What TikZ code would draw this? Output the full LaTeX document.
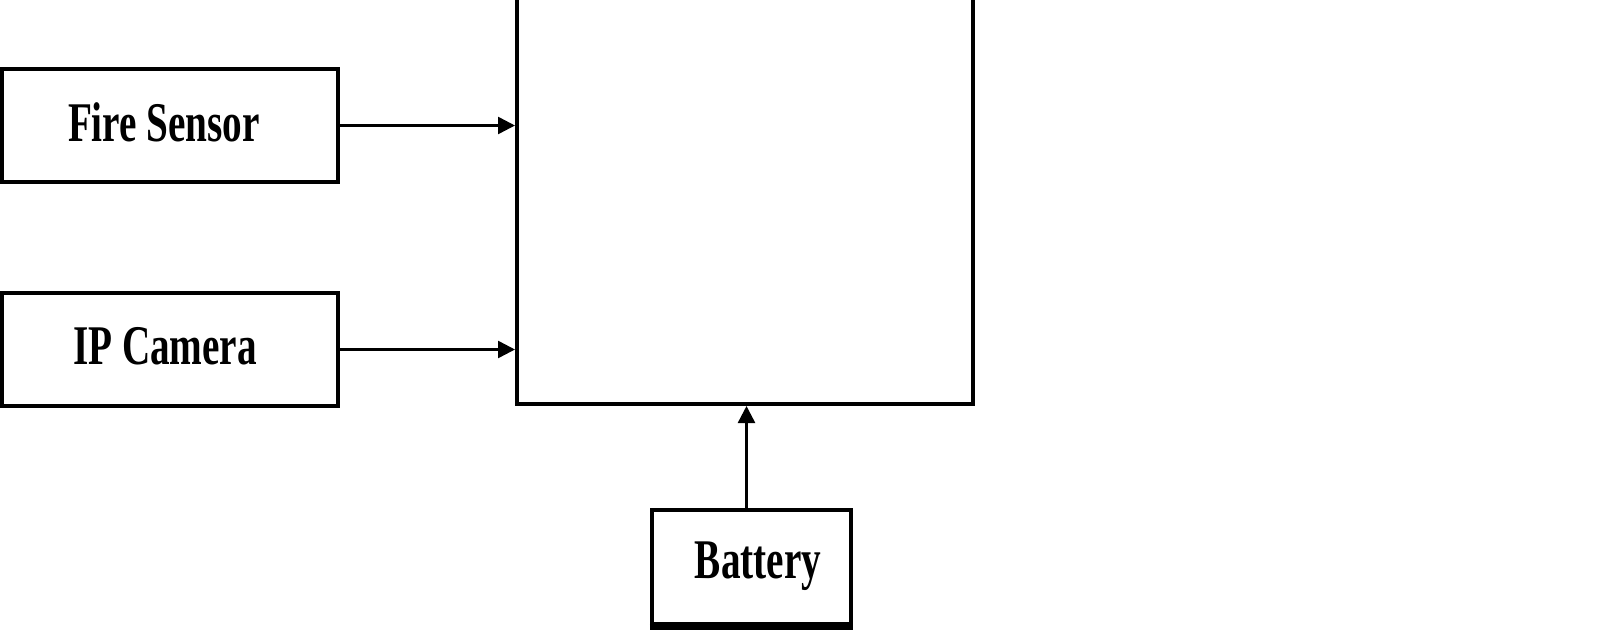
\documentclass[tikz,border=0pt]{standalone}
\usepackage{fontspec}
\usepackage{graphicx}
\setmainfont{Liberation Serif}
\usetikzlibrary{arrows.meta}
\tikzset{
  blk/.style={draw, line width=4.5pt, inner sep=0pt, font=\fontsize{56}{60}\selectfont\bfseries},
  arr/.style={line width=2.5pt, -{Triangle[length=17pt,width=17pt]}}
}
\newcommand{\cnd}[1]{\scalebox{0.7}[1]{#1}}
\begin{document}
\begin{tikzpicture}[x=1pt,y=-1pt]
\clip (0,0) rectangle (1608,629);
\fill[white] (0,0) rectangle (1608,629);
\node[blk, minimum width=336pt, minimum height=113pt] (fs) at (170,125.5) {};
\node[font=\fontsize{56}{60}\selectfont\bfseries] (fst) at (164,122.5) {\cnd{Fire Sensor}};
\node[blk, minimum width=336pt, minimum height=113pt] (ip) at (170,349.5) {};
\node[font=\fontsize{56}{60}\selectfont\bfseries] (ipt) at (165,346.5) {\cnd{IP Camera}};
\node[draw, line width=4pt, minimum width=456pt, minimum height=424pt] (ctrl) at (745,192) {};
\node[blk, minimum width=199pt, minimum height=114pt] (bat) at (751.5,567) {};
\node[font=\fontsize{56}{60}\selectfont\bfseries] (batt) at (758,566) {\cnd{Battery}};
\draw[line width=8pt] ([yshift=-2pt]bat.south west) -- ([yshift=-2pt]bat.south east);
\coordinate (bin) at (746.5,510);
\draw[arr] (fs.east) -- (fs.east -| ctrl.west);
\draw[arr] (ip.east) -- (ip.east -| ctrl.west);
\draw[arr] (bin) -- (bin |- ctrl.south);
\end{tikzpicture}
\end{document}
